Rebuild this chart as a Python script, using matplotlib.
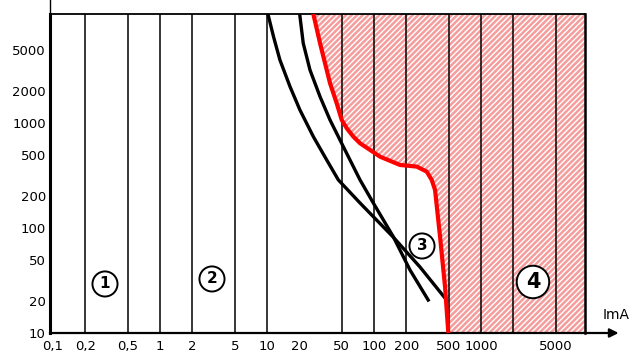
import matplotlib
matplotlib.use('Agg')
import matplotlib.pyplot as plt

# ---- data ----
x_ticks = [0.1, 0.2, 0.5, 1, 2, 5, 10, 20, 50, 100, 200, 500, 1000, 5000]
x_labels = ['0,1', '0,2', '0,5', '1', '2', '5', '10', '20', '50', '100', '200', '500', '1000', '5000']
grid_lines = [0.2, 0.5, 1, 2, 5, 10, 50, 100, 200, 500, 1000, 2000, 5000]
y_ticks = [10, 20, 50, 100, 200, 500, 1000, 2000, 5000]
y_labels = ['10', '20', '50', '100', '200', '500', '1000', '2000', '5000']

curve_a_ma = [10.3, 11.5, 13.2, 16.4, 20.3, 27.1, 36.1, 46.4, 74, 151, 269, 461]
curve_a_ms = [10450, 6640, 3980, 2220, 1330, 741, 445, 287, 173, 82, 42.5, 21.5]

curve_b_ma = [20.3, 21.8, 25.2, 31.3, 38.8, 51.7, 74, 98.5, 151, 217, 321]
curve_b_ms = [10450, 5750, 3200, 1780, 1068, 594, 287, 173, 83, 39.8, 20.6]

curve_c1_ma = [27.1, 31.3, 38.8, 44.8, 49.9, 55.6, 64.1, 74, 91.9, 114, 175, 251,
               311, 346, 372, 414, 461, 495]
curve_c1_ms = [10900, 5740, 2390, 1540, 1068, 891, 741, 641, 553, 477, 398, 384,
               344, 287, 230, 83, 27.6, 10]

zone_labels = ['1', '2', '3', '4']
zone_ma = [0.306, 3.06, 281, 3060]
zone_ms = [29.3, 32.7, 67.4, 30.6]

x_min, x_max = 0.0937, 9376
y_min, y_max = 10, 10900

plt.rcParams['hatch.linewidth'] = 1.8

fig = plt.figure(figsize=(6.41, 3.54), dpi=100)
ax = fig.add_axes([50 / 641, 21 / 354, 535 / 641, 319 / 354])
ax.set_xscale('log')
ax.set_yscale('log')
ax.set_xlim(x_min, x_max)
ax.set_ylim(y_min, y_max)

# hatched zone 4
ax.fill_betweenx(curve_c1_ms, curve_c1_ma, x_max, facecolor='white',
                 edgecolor='#f59c9c', hatch='//////', linewidth=0, zorder=0.5)

for v in grid_lines:
    ax.axvline(v, color='black', lw=1.1, zorder=1)

ax.plot(curve_a_ma, curve_a_ms, color='black', lw=2.4, zorder=3, solid_joinstyle='round')
ax.plot(curve_b_ma, curve_b_ms, color='black', lw=2.4, zorder=3, solid_joinstyle='round')
ax.plot(curve_c1_ma, curve_c1_ms, color='#ff0000', lw=3.0, zorder=4, solid_joinstyle='round')

for lab, xv, yv in zip(zone_labels, zone_ma, zone_ms):
    big = lab == '4'
    ax.text(xv, yv, lab, ha='center', va='center', fontsize=15 if big else 11,
            fontweight='bold', zorder=6,
            bbox=dict(boxstyle='circle,pad=%s' % (0.3 if big else 0.33), fc='white', ec='black', lw=1.4))

ax.set_xticks(x_ticks)
ax.set_xticklabels(x_labels)
ax.set_yticks(y_ticks)
ax.set_yticklabels(y_labels)
ax.minorticks_off()
ax.tick_params(axis='both', length=0, labelsize=9.5)
ax.tick_params(axis='x', pad=5)
ax.tick_params(axis='y', pad=3)

ax.spines['left'].set_linewidth(2.2)
ax.spines['bottom'].set_linewidth(1.6)
ax.spines['top'].set_linewidth(1.3)
ax.spines['right'].set_linewidth(1.8)

# y axis extension above plot
ax.plot([0, 0], [1, 1.06], transform=ax.transAxes, clip_on=False, color='black', lw=1.0)
# x axis arrow
ax.annotate('', xy=(1.068, 0), xytext=(0.995, 0), xycoords='axes fraction',
            arrowprops=dict(arrowstyle='-|>', color='black', lw=1.6, mutation_scale=13))
ax.text(1.058, 0.057, 'ImA', transform=ax.transAxes, ha='center', va='center', fontsize=10)

fig.savefig('out.png', dpi=100)
